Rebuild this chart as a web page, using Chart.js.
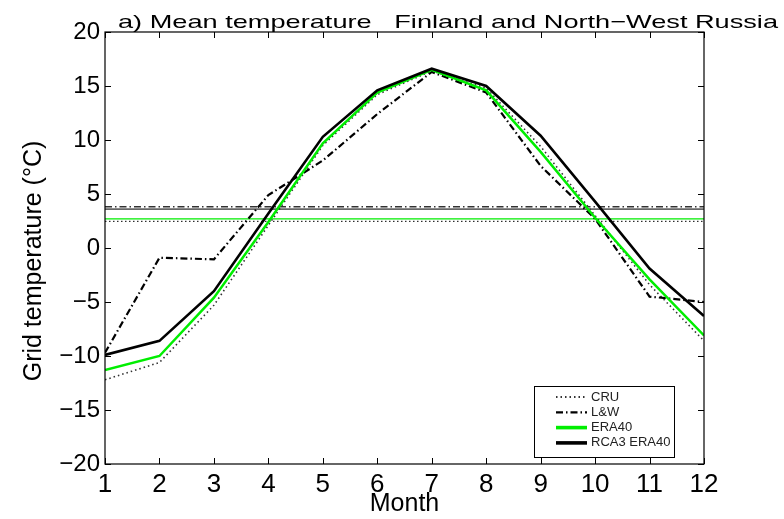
<!DOCTYPE html>
<html>
<head>
<meta charset="utf-8">
<script src="https://cdn.jsdelivr.net/npm/chart.js@4"></script>
<style>
  body { margin: 0; background: #fff; }
  canvas { display: block; }
</style>
</head>
<body>
<canvas id="line-chart" width="784" height="519"></canvas>
<script>
// monthly mean temperature, Finland and North-West Russia
var months = [1, 2, 3, 4, 5, 6, 7, 8, 9, 10, 11, 12];
var cru   = [-12.2, -10.6, -5.3, 2.1, 9.5, 14.2, 16.4, 14.8, 9.4, 3.0, -3.4, -8.6];
var lw    = [-9.7, -0.9, -1.05, 4.9, 8.1, 12.4, 16.3, 14.4, 7.6, 2.7, -4.5, -5.0];
var era40 = [-11.3, -10.0, -4.6, 2.4, 9.7, 14.4, 16.5, 14.6, 8.9, 2.8, -2.9, -8.1];
var rca3  = [-9.9, -8.6, -4.0, 3.2, 10.3, 14.6, 16.6, 15.0, 10.4, 4.3, -1.9, -6.3];
// annual means, drawn as horizontal lines (CRU, L&W, ERA40, RCA3)
var means = [2.47, 3.82, 2.7, 3.6];
var seriesNames = ["CRU", "L&W", "ERA40", "RCA3 ERA40"];
var yTicks = [-20, -15, -10, -5, 0, 5, 10, 15, 20];

var FONT = "'Liberation Sans', Arial, sans-serif";

function pts(values) {
  return months.map(function (m, i) { return { x: m, y: values[i] }; });
}
function flat(v) {
  return [{ x: months[0], y: v }, { x: months[months.length - 1], y: v }];
}

var styles = [
  { color: "#333", width: 1.6, dash: [1.5, 3] },
  { color: "#000", width: 2.2, dash: [7, 3, 1.5, 3] },
  { color: "#00ee00", width: 2.5, dash: [] },
  { color: "#000", width: 2.6, dash: [] }
];
var meanStyles = [
  { color: "#000", width: 1, dash: [1.5, 2.5] },
  { color: "#333", width: 1.3, dash: [7, 3, 1.5, 3] },
  { color: "#00ee00", width: 1.3, dash: [] },
  { color: "#666", width: 1.8, dash: [] }
];
var drawOrder = [3, 2, 1, 0]; // RCA3 on top

var datasets = [cru, lw, era40, rca3].map(function (vals, i) {
  return {
    label: seriesNames[i],
    data: pts(vals),
    borderColor: styles[i].color,
    borderWidth: styles[i].width,
    borderDash: styles[i].dash,
    pointRadius: 0,
    fill: false,
    tension: 0,
    order: drawOrder[i]
  };
});
means.forEach(function (m, i) {
  datasets.push({
    label: seriesNames[i] + " mean",
    data: flat(m),
    borderColor: meanStyles[i].color,
    borderWidth: meanStyles[i].width,
    borderDash: meanStyles[i].dash,
    pointRadius: 0,
    fill: false,
    order: 10 + i
  });
});

// box, inward ticks, titles and legend
var matlabFrame = {
  id: "matlabFrame",
  afterDatasetsDraw: function (chart) {
    var ctx = chart.ctx, a = chart.chartArea;
    var xs = chart.scales.x, ys = chart.scales.y;
    ctx.save();
    ctx.strokeStyle = "#000";
    ctx.lineWidth = 1.2;
    ctx.strokeRect(a.left, a.top, a.right - a.left, a.bottom - a.top);
    ctx.beginPath();
    xs.ticks.forEach(function (t) {
      var px = Math.round(xs.getPixelForValue(t.value)) + 0.5;
      ctx.moveTo(px, a.bottom); ctx.lineTo(px, a.bottom - 6);
      ctx.moveTo(px, a.top); ctx.lineTo(px, a.top + 6);
    });
    ys.ticks.forEach(function (t) {
      var py = Math.round(ys.getPixelForValue(t.value)) + 0.5;
      ctx.moveTo(a.left, py); ctx.lineTo(a.left + 6, py);
      ctx.moveTo(a.right, py); ctx.lineTo(a.right - 6, py);
    });
    ctx.lineWidth = 1;
    ctx.stroke();
    ctx.restore();
  },
  afterDraw: function (chart) {
    var ctx = chart.ctx;
    ctx.save();
    // title (stretched wide like the original figure)
    var title = "a) Mean temperature   Finland and North\u2212West Russia";
    ctx.font = "19px " + FONT;
    ctx.fillStyle = "#000";
    ctx.textBaseline = "alphabetic";
    var w = ctx.measureText(title).width;
    var sx = (778 - 118) / w;
    ctx.translate(118, 28);
    ctx.scale(sx, 1);
    ctx.fillText(title, 0, 0);
    ctx.restore();

    // y axis label
    ctx.save();
    ctx.font = "25px " + FONT;
    ctx.fillStyle = "#000";
    ctx.textAlign = "center";
    ctx.textBaseline = "middle";
    ctx.translate(34, 261);
    ctx.rotate(-Math.PI / 2);
    ctx.fillText("Grid temperature (\u00B0C)", 0, 0);
    ctx.restore();

    // legend
    ctx.save();
    var bx = 534, by = 386, bw = 140, bh = 71;
    ctx.fillStyle = "#fff";
    ctx.fillRect(bx, by, bw, bh);
    ctx.strokeStyle = "#000";
    ctx.lineWidth = 1;
    ctx.strokeRect(bx + 0.5, by + 0.5, bw, bh);
    ctx.font = "13px " + FONT;
    ctx.textBaseline = "middle";
    seriesNames.forEach(function (name, i) {
      var y = by + 11 + i * 15.3;
      ctx.beginPath();
      ctx.strokeStyle = styles[i].color;
      ctx.lineWidth = i >= 2 ? 3.6 : 2.2;
      ctx.setLineDash(styles[i].dash);
      ctx.moveTo(bx + 22, y);
      ctx.lineTo(bx + 53, y);
      ctx.stroke();
      ctx.setLineDash([]);
      ctx.fillStyle = "#222";
      ctx.fillText(name, bx + 57, y);
    });
    ctx.restore();
  }
};

var ctx = document.getElementById("line-chart").getContext("2d");
var lineChart = new Chart(ctx, {
  type: "line",
  data: { datasets: datasets },
  plugins: [matlabFrame],
  options: {
    responsive: false,
    animation: false,
    layout: { padding: { left: 0, right: 80, top: 32, bottom: 0 } },
    plugins: { legend: { display: false }, title: { display: false }, tooltip: { enabled: false } },
    scales: {
      x: {
        type: "linear",
        min: 1,
        max: 12,
        afterFit: function (s) { s.height = 55; },
        grid: { display: false, drawTicks: false },
        border: { display: false },
        ticks: {
          stepSize: 1,
          autoSkip: false,
          maxRotation: 0,
          padding: 5,
          color: "#000",
          font: { family: FONT, size: 26 }
        },
        title: {
          display: true,
          text: "Month",
          color: "#000",
          padding: { top: 0, bottom: 0 },
          font: { family: FONT, size: 25 }
        }
      },
      y: {
        min: -20,
        max: 20,
        afterFit: function (s) { s.width = 105; },
        afterBuildTicks: function (s) {
          s.ticks = yTicks.map(function (v) { return { value: v }; });
        },
        grid: { display: false, drawTicks: false },
        border: { display: false },
        ticks: {
          padding: 5,
          color: "#000",
          font: { family: FONT, size: 24 },
          callback: function (v) { return String(v).replace("-", "\u2212"); }
        }
      }
    }
  }
});
</script>
</body>
</html>
